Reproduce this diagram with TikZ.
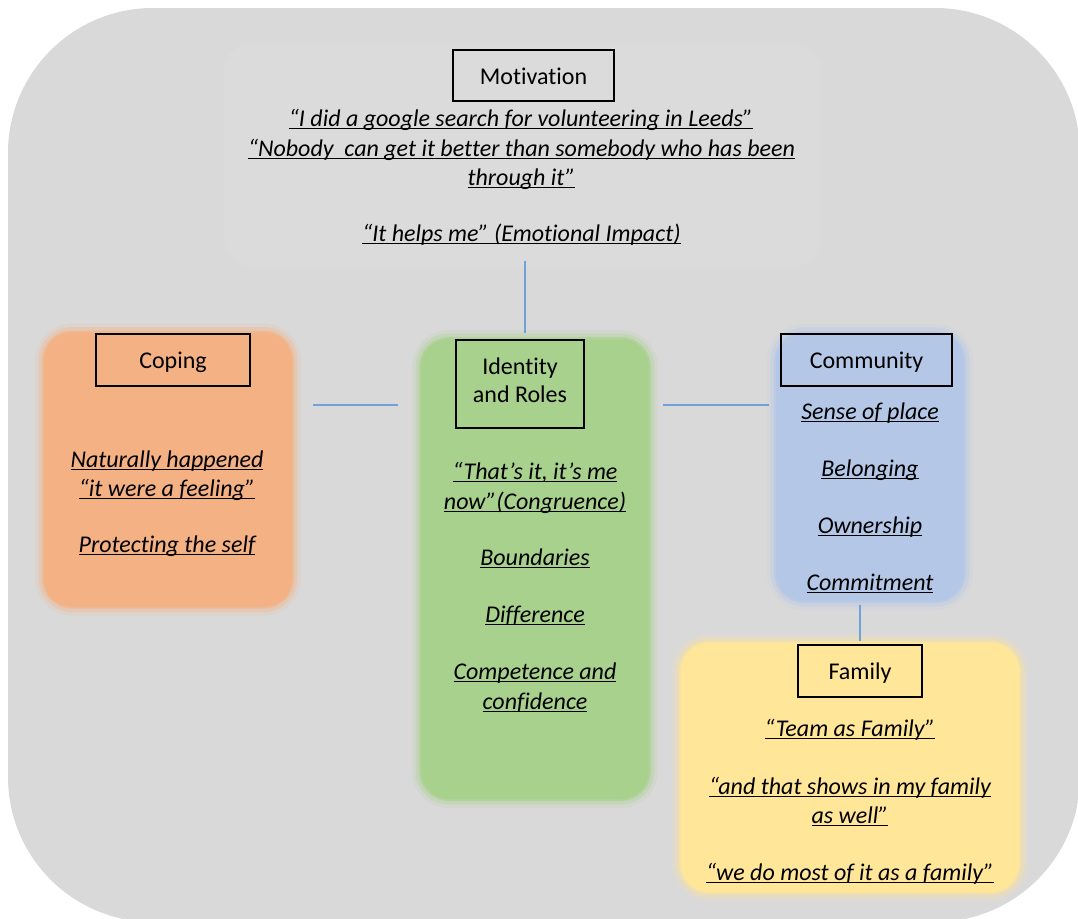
\documentclass[tikz,border=0pt]{standalone}
\usepackage{fontspec}
\setmainfont{Carlito}[Ligatures=NoCommon]
\definecolor{bgc}{HTML}{D9D9D9}
\definecolor{motc}{HTML}{DBDBDB}
\definecolor{orc}{HTML}{F4B183}
\definecolor{grc}{HTML}{A9D18E}
\definecolor{blc}{HTML}{B4C7E7}
\definecolor{ylc}{HTML}{FFE699}
\definecolor{linec}{HTML}{6FA3D8}
\newcommand\qfont{\fontsize{24}{29.5}\selectfont\itshape}
\newcommand\lfont{\fontsize{24}{28}\selectfont}
\newcommand\ulx[1]{\setbox0\hbox{#1}\rlap{\rule[-2.8pt]{\wd0}{1.1pt}}\box0}
\tikzset{
  region/.style={rectangle, rounded corners=28, inner sep=0, fill=#1,
    preaction={draw=#1, line width=18, opacity=0.15},
    preaction={draw=#1, line width=11, opacity=0.3},
    preaction={draw=#1, line width=4, opacity=0.6}},
  labelbox/.style={rectangle, draw=black, line width=1.8, inner sep=0, font=\lfont, align=center, text height=19, text depth=2},
  lt/.style={anchor=base, inner sep=0, font=\lfont},
  q/.style={anchor=base, inner sep=0, font=\qfont},
  conn/.style={draw=linec, line width=1.5}
}
\begin{document}
\begin{tikzpicture}[x=1pt,y=-1pt]
\useasboundingbox (0,0) rectangle (1078,918);
\begin{scope}
\clip (0,0) rectangle (1078,918);
\fill[bgc, rounded corners=145] (8,8) rectangle (1080,922);
\end{scope}

% regions
\node[region=motc, minimum width=596, minimum height=222] (motiv) at (522.5,155) {};
\node[region=orc, minimum width=248, minimum height=274] (coping) at (168,469.5) {};
\node[region=grc, minimum width=228, minimum height=460] (ident) at (535,569) {};
\node[region=blc, minimum width=188, minimum height=268] (comm) at (870,467) {};
\node[region=ylc, minimum width=338, minimum height=249] (fam) at (850,767.5) {};

% labels
\node[labelbox, minimum width=161, minimum height=51] (motivL) at (533.5,75.5) {Motivation};
\node[labelbox, minimum width=154, minimum height=52] (copingL) at (173,360) {Coping};
\node[rectangle, draw=black, line width=1.8, inner sep=0, minimum width=128, minimum height=88] (identL) at (520,384) {};
\node[lt] (identT1) at (520,374) {Identity};
\node[lt] (identT2) at (520,402) {and Roles};
\node[labelbox, minimum width=171, minimum height=52] (commL) at (866.5,360) {Community};
\node[labelbox, minimum width=124, minimum height=52] (famL) at (860,671) {Family};

% motivation texts
\node[q] (m1) at (521,126) {\ulx{“I did a google search for volunteering in Leeds”}};
\node[q] (m2) at (521.5,156) {\ulx{“Nobody\ \ can get it better than somebody who has been}};
\node[q] (m3) at (521.5,185) {\ulx{through it”}};
\node[q] (m4) at (521.5,241) {\ulx{“It helps me” (Emotional Impact)}};

% coping texts
\node[q] (c1) at (167,467) {\ulx{Naturally happened}};
\node[q] (c2) at (167,496) {\ulx{“it were a feeling”}};
\node[q] (c3) at (167,552) {\ulx{Protecting the self}};

% identity texts
\node[q] (i1) at (535,479) {\ulx{“That’s it, it’s me}};
\node[q] (i2) at (535,509) {\ulx{now”(Congruence)}};
\node[q] (i3) at (535,565) {\ulx{Boundaries}};
\node[q] (i4) at (535,622) {\ulx{Difference}};
\node[q] (i5) at (535,679) {\ulx{Competence and}};
\node[q] (i6) at (535,709) {\ulx{confidence}};

% community texts
\node[q] (k1) at (870,419) {\ulx{Sense of place}};
\node[q] (k2) at (870,476) {\ulx{Belonging}};
\node[q] (k3) at (870,533) {\ulx{Ownership}};
\node[q] (k4) at (870,590) {\ulx{Commitment}};

% family texts
\node[q] (f1) at (850,736) {\ulx{“Team as Family”}};
\node[q] (f2) at (850,794) {\ulx{“and that shows in my family}};
\node[q] (f3) at (850,823) {\ulx{as well”}};
\node[q] (f4) at (850,880) {\ulx{“we do most of it as a family”}};

% connectors
\coordinate (a1) at (525,261);
\coordinate (a2) at (525,333);
\coordinate (b1) at (313,405);
\coordinate (b2) at (398,405);
\coordinate (d1) at (663,405);
\coordinate (d2) at (769,405);
\coordinate (e1) at (860,605);
\coordinate (e2) at (860,641);
\draw[conn] (a1) -- (a2);
\draw[conn] (b1) -- (b2);
\draw[conn] (d1) -- (d2);
\draw[conn] (e1) -- (e2);
\end{tikzpicture}
\end{document}
